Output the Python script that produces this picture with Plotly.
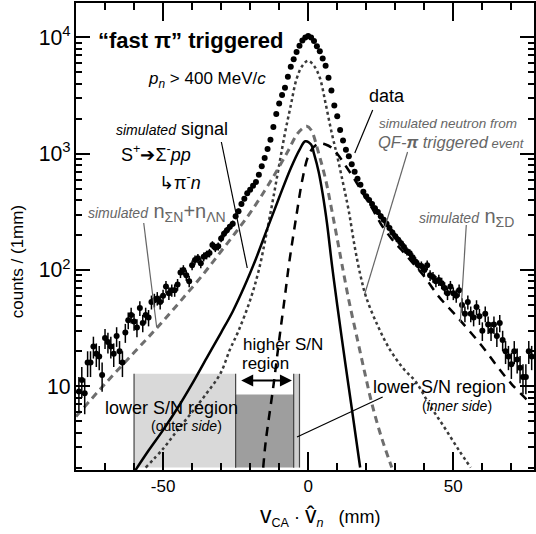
import plotly.graph_objects as go
import math

# ---------------- data ----------------
data_x = list(range(-79, 78))
data_counts = [
    9.0, 11.3, 8.7, 16, 16, 22, 19, 18, 12.5, 26,            # -79..-70
    24, 22, 19, 27, 20, 16, 29, 37, 41, 36,                   # -69..-60
    32, 47, 35, 41, 39, 53, 55, 57, 53, 60,                   # -59..-50
    72, 63, 67, 67, 75, 95, 100, 90, 80, 110,                 # -49..-40
    122, 126, 114, 130, 135, 140, 164, 155, 160, 187,         # -39..-30
    205, 220, 235, 250, 290, 320, 370, 410, 458, 490,         # -29..-20
    530, 570, 660, 780, 920, 1100, 1320, 1700, 2200, 2700,    # -19..-10
    3200, 3700, 4600, 5600, 6500, 7500, 8500, 9400, 10000,    # -9..-1
    10300,                                                    # 0
    10000, 9300, 8400, 7600, 6600, 5700, 4500, 3500, 2600, 2100,  # 1..10
    1600, 1300, 1080, 950, 810, 700, 610, 540, 470, 430,      # 11..20
    400, 370, 340, 315, 290, 270, 250, 230, 210, 195,         # 21..30
    182, 170, 158, 145, 139, 128, 118, 110, 108, 100,         # 31..40
    110, 90, 87, 80, 82, 77, 70, 63, 72, 63,                  # 41..50
    60, 67, 50, 42, 53, 42, 39, 48, 40, 30,                   # 51..60
    42, 34, 30, 34, 27, 35, 25, 20, 18, 15.5,                 # 61..70
    20, 17, 14.4, 12, 12, 20, 18,                             # 71..77
]

qf_x = [-56, -50, -45, -40, -35, -30.3, -27, -24, -20, -17, -14, -12, -10, -8, -6, -4, -2, 0,
        2, 4, 6, 8, 10, 12, 14, 16, 18, 20, 24, 28, 33, 37, 42, 47, 52, 56]
qf_y = [2, 2.9, 4.2, 6, 8.7, 12.8, 20.6, 30, 55, 100, 230, 420, 800, 1500, 2600, 4400, 5700, 6300,
        5700, 4500, 2700, 1550, 950, 560, 320, 160, 90, 58, 33, 21, 14, 11, 6.8, 4.4, 2.8, 2]

sn_x = [-80, -70, -60, -52, -44, -36, -30, -25, -20, -15, -11, -7, -4, -2, -0.5,
        1, 3.6, 6, 8, 10, 11.6, 14, 17, 19.6, 22, 25, 28.8]
sn_y = [5.5, 10.5, 19.5, 32, 54, 93, 145, 210, 310, 480, 700, 1050, 1450, 1650, 1720,
        1600, 1010, 600, 340, 185, 113, 55, 25, 12.7, 7, 3.8, 2]

sig_x = [-59.5, -55, -50, -45, -40, -35, -30, -26, -22, -18, -14, -10, -6, -3, -1,
         1, 2, 3.6, 5, 6.5, 8.2, 10, 12.8, 15, 17.9]
sig_y = [1.9, 2.8, 4.2, 6.5, 10.5, 17.5, 29, 44, 72, 125, 230, 420, 750, 1080, 1280,
         1200, 1000, 700, 450, 250, 110, 50, 15.7, 6.5, 2]

sd_x = [-15.5, -14.6, -12, -10, -8, -6.6, -4, -2, 0, 2, 4, 6, 8, 10, 13, 16, 19, 22, 25,
        29, 32, 36, 40, 45, 50, 55, 60, 65, 70, 76.5]
sd_y = [2, 3.4, 10, 25, 60, 113, 300, 600, 950, 1150, 1220, 1200, 1130, 1000, 780, 600, 450,
        340, 250, 182, 150, 115, 88, 59, 43, 31, 22, 15, 10.5, 7.2]

# analysis regions (mm) and box heights (counts)
outer_region = [-60, -25]
higher_region = [-25, -5]
inner_region = [-5, -3]
box_top_light = 12.8
box_top_dark = 8.5
box_bottom = 2.0
arrow_y = 11.2

# ---------------- figure ----------------
W, H = 536, 534
L, R, T, B = 76, 0, 3, 64
FONT = "Liberation Sans, Arial, Helvetica, sans-serif"

def px(x):
    return (x - L) / (W - L - R)

def py(y):
    return (H - B - y) / (H - B - T)

fig = go.Figure()

def rect(x0, x1, y1, fill, line_col):
    fig.add_trace(go.Scatter(x=[x0, x0, x1, x1, x0], y=[box_bottom, y1, y1, box_bottom, box_bottom],
                             mode="lines", fill="toself", fillcolor=fill,
                             line=dict(color=fill, width=0), hoverinfo="skip", showlegend=False))
    for xv in (x0, x1):
        fig.add_trace(go.Scatter(x=[xv, xv], y=[box_bottom, y1], mode="lines",
                                 line=dict(color=line_col, width=1.2), hoverinfo="skip",
                                 showlegend=False))

rect(outer_region[0], outer_region[1], box_top_light, "#d9d9d9", "#444")
rect(higher_region[0], higher_region[1], box_top_dark, "#9e9e9e", "#444")
rect(inner_region[0], inner_region[1], box_top_light, "#cfcfcf", "#444")

# simulated curves
fig.add_trace(go.Scatter(x=qf_x, y=qf_y, mode="lines", line=dict(color="#3a3a3a", width=2.5, dash="dot", shape="spline"), showlegend=False))
fig.add_trace(go.Scatter(x=sn_x, y=sn_y, mode="lines", line=dict(color="#6e6e6e", width=3, dash="7px,5px", shape="spline"), showlegend=False))
fig.add_trace(go.Scatter(x=sig_x, y=sig_y, mode="lines", line=dict(color="black", width=2.5, shape="spline"), showlegend=False))
fig.add_trace(go.Scatter(x=sd_x, y=sd_y, mode="lines", line=dict(color="black", width=2.5, dash="9px,7px", shape="spline"), showlegend=False))

# data
errs = [math.sqrt(c) for c in data_counts]
fig.add_trace(go.Scatter(x=data_x, y=data_counts, mode="markers",
                         marker=dict(color="black", size=6),
                         error_y=dict(type="data", array=errs, color="black", thickness=1.5, width=0),
                         showlegend=False))

# double-headed arrow (annotation on log axis uses log10 for y)
fig.add_annotation(x=-5.6, y=math.log10(arrow_y), ax=-23.6, ay=math.log10(arrow_y),
                   xref="x", yref="y", axref="x", ayref="y", text="", showarrow=True,
                   arrowhead=2, arrowside="end+start", arrowsize=1.2, arrowwidth=2, arrowcolor="black")

# pointer lines (paper coordinates)
def pline(x0, y0, x1, y1, col="black", w=1.2):
    fig.add_shape(type="line", xref="paper", yref="paper", x0=px(x0), y0=py(y0), x1=px(x1), y1=py(y1),
                  line=dict(color=col, width=w))

pline(374, 110, 356, 153)            # data
pline(409, 152, 366, 294, "#666")    # QF-pi
pline(222, 142, 248, 268)            # signal
pline(144, 223, 157, 327, "#666")    # nSN+nLN
pline(468, 225, 462, 322, "#666")    # nSD
pline(384, 397, 298, 437)            # inner side

def txt(x, y, s, size=17, color="black", xanchor="left"):
    fig.add_annotation(x=px(x), y=py(y), xref="paper", yref="paper", text=s, showarrow=False,
                       xanchor=xanchor, yanchor="middle", font=dict(family=FONT, size=size, color=color))

G = "#666666"
txt(96, 40, "<b>“fast π” triggered</b>", 22)
txt(146, 80, "<i>p</i><sub><i>n</i></sub> > 400 MeV/<i>c</i>", 17)
txt(368, 96, "data", 18)
txt(378, 124, "<i>simulated neutron from</i>", 13.5, G)
txt(377, 142, "<i>QF-<b>π</b> triggered</i><span style='font-size:13px'><i> event</i></span>", 16.5, G)
txt(114, 129, "<i><span style='font-size:14px'>simulated</span></i> signal", 18)
txt(119, 153, "S<sup>+</sup>➔Σ<sup>-</sup><i>pp</i>", 18)
txt(157, 181, "↳π<sup>-</sup><i>n</i>", 18)
txt(86, 213, "<i><span style='font-size:14px'>simulated</span></i> n<sub>ΣN</sub>+n<sub>ΛN</sub>", 20, G)
txt(418, 217, "<i><span style='font-size:14px'>simulated</span></i> n<sub>ΣD</sub>", 20, G)
txt(242, 344, "higher S/N", 17)
txt(241, 363, "region", 17)
txt(103, 408, "lower S/N region", 18)
txt(187, 426, "(outer <i>side</i>)", 14, xanchor="center")
txt(372, 387, "lower S/N region", 18)
txt(459, 406, "(<i>inner side</i>)", 14, xanchor="center")

# axis titles
fig.add_annotation(x=px(17), y=py(262), xref="paper", yref="paper", text="counts / (1mm)", textangle=-90,
                   showarrow=False, xanchor="center", yanchor="middle", font=dict(family=FONT, size=17))
fig.add_annotation(x=px(322), y=py(516), xref="paper", yref="paper",
                   text="<span style='font-size:23px'>v</span><sub>CA</sub> · <span style='font-size:23px'>v̂</span><sub><i>n</i></sub>   (mm)",
                   showarrow=False, xanchor="center", yanchor="middle", font=dict(family=FONT, size=18))

fig.update_xaxes(range=[-80, 77.8], showline=True, linecolor="black", linewidth=2, mirror="ticks",
                 tickmode="array", tickvals=[-50, 0, 50], ticktext=["-50", "0", "50"],
                 ticks="inside", ticklen=18, tickwidth=2, tickcolor="black",
                 minor=dict(tickmode="array", tickvals=[-70, -60, -40, -30, -20, -10, 10, 20, 30, 40, 60, 70],
                            ticks="inside", ticklen=7, tickwidth=2, tickcolor="black", showgrid=False),
                 showgrid=False, zeroline=False, tickfont=dict(family=FONT, size=17, color="black"))
fig.update_yaxes(type="log", range=[0.28, 4.296], showline=True, linecolor="black", linewidth=2, mirror="ticks",
                 dtick=1, exponentformat="power", ticks="inside", ticklen=14, tickwidth=2, tickcolor="black",
                 minor=dict(dtick="D1", ticks="inside", ticklen=6, tickwidth=1.5, tickcolor="black", showgrid=False),
                 showgrid=False, zeroline=False, tickfont=dict(family=FONT, size=17, color="black"))

fig.update_layout(width=W, height=H, margin=dict(l=L, r=R, t=T, b=B), plot_bgcolor="white",
                  paper_bgcolor="white", showlegend=False, font=dict(family=FONT, color="black"))

fig.write_html("out.html")
